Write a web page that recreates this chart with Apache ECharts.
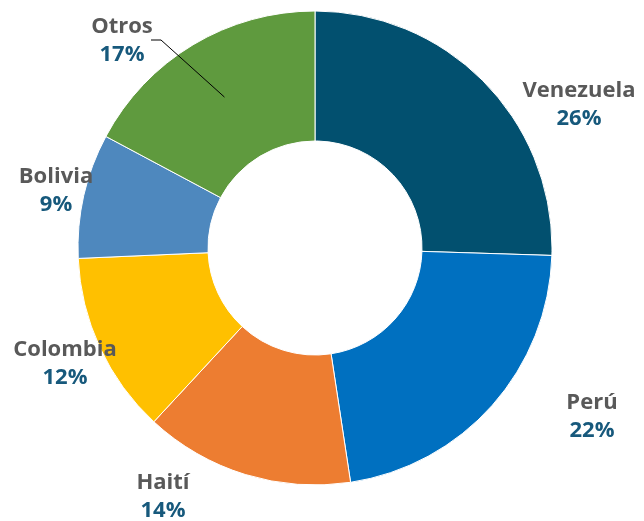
<!DOCTYPE html>
<html>
<head>
<meta charset="utf-8">
<script src="https://cdn.jsdelivr.net/npm/echarts@6/dist/echarts.min.js"></script>
<style>
  html, body { margin: 0; padding: 0; background: #fff; }
  #main { width: 644px; height: 521px; }
</style>
</head>
<body>
<div id="main"></div>
<script>
// data
var categories = ['Venezuela', 'Perú', 'Haití', 'Colombia', 'Bolivia', 'Otros'];
var shares = [25.5, 22.1, 14.3, 12.4, 8.5, 17.2];

// styles / label placement (not data)
var sliceColors = ['#02506F', '#0070C0', '#ED7D31', '#FFC000', '#4E88BE', '#5F9A3E'];
var labelSpots = [[579, 105], [592, 417], [163, 497], [65, 364], [56, 191], [122, 41]];

var cx = 315, cy = 248, rIn = 107, rOut = 237;

var myChart = echarts.init(document.getElementById('main'));

var total = shares.reduce(function (a, b) { return a + b; }, 0);

// mid angle (radians, clockwise from top) of a slice
function midAngle(idx) {
  var before = 0;
  for (var i = 0; i < idx; i++) before += shares[i];
  return (before + shares[idx] / 2) / total * Math.PI * 2;
}

// leader line for "Otros": from the middle of the ring to the label
var otrosIdx = categories.indexOf('Otros');
var oa = midAngle(otrosIdx);
var orad = (rIn + rOut) / 2 + 4;
var oSpot = labelSpots[otrosIdx];
var leaderPts = [
  [cx + orad * Math.sin(oa), cy - orad * Math.cos(oa)],
  [oSpot[0] + 39, oSpot[1] - 1],
  [oSpot[0] + 29, oSpot[1] - 1]
];

var seriesData = categories.map(function (name, i) {
  return {
    name: name,
    value: shares[i],
    itemStyle: { color: sliceColors[i] }
  };
});

var option = {
  animation: false,
  graphic: [
    {
      type: 'polyline',
      z: 100,
      shape: { points: leaderPts },
      style: { stroke: '#000', lineWidth: 1, fill: null }
    }
  ],
  series: [
    {
      type: 'pie',
      center: [cx, cy],
      radius: [rIn, rOut],
      startAngle: 90,
      clockwise: true,
      avoidLabelOverlap: false,
      itemStyle: { borderColor: '#fff', borderWidth: 1 },
      label: {
        show: true,
        position: 'outside',
        formatter: function (p) {
          return '{n|' + p.name + '}\n{p|' + Math.round(p.value) + '%}';
        },
        rich: {
          n: { fontFamily: 'Open Sans', fontWeight: 'bold', fontSize: 22, color: '#595959', lineHeight: 28, align: 'center' },
          p: { fontFamily: 'Open Sans', fontWeight: 'bold', fontSize: 22, color: '#17597C', lineHeight: 28, align: 'center' }
        }
      },
      labelLine: { show: false },
      labelLayout: function (params) {
        var spot = labelSpots[params.dataIndex];
        return { x: spot[0], y: spot[1], align: 'center', verticalAlign: 'middle' };
      },
      data: seriesData
    }
  ]
};

myChart.setOption(option);
</script>
</body>
</html>
